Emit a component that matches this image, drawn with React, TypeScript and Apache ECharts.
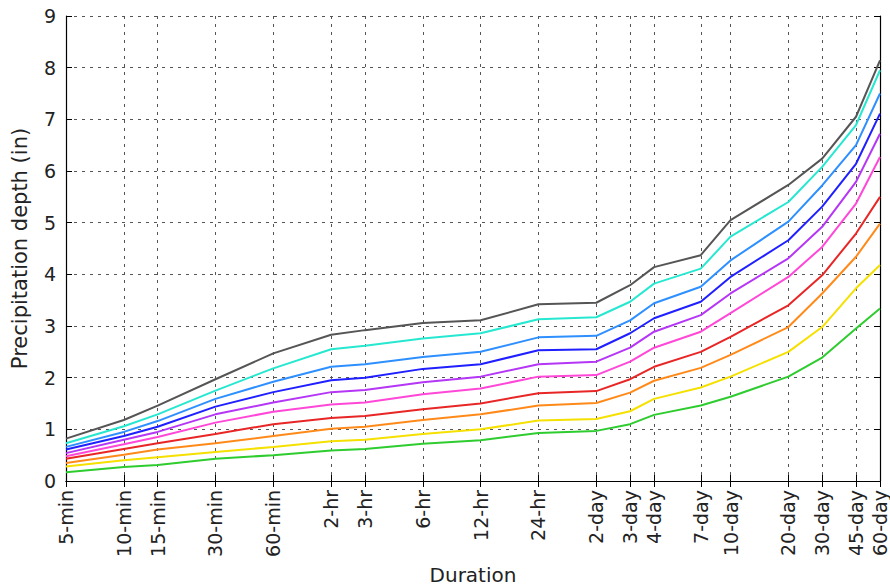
import React, { useEffect, useRef } from "react";
import * as echarts from "echarts";

// Durations in minutes, with their tick labels
const durationMinutes = [
  5, 10, 15, 30, 60, 120, 180, 360, 720, 1440, 2880, 4320, 5760, 10080, 14400,
  28800, 43200, 64800, 86400,
];
const durationLabels = [
  "5-min", "10-min", "15-min", "30-min", "60-min", "2-hr", "3-hr", "6-hr",
  "12-hr", "24-hr", "2-day", "3-day", "4-day", "7-day", "10-day", "20-day",
  "30-day", "45-day", "60-day",
];

// Precipitation depth (in) per duration, one array per curve
const depthGreen = [0.17, 0.27, 0.31, 0.43, 0.5, 0.59, 0.62, 0.72, 0.79, 0.93, 0.97, 1.1, 1.28, 1.46, 1.63, 2.02, 2.39, 2.95, 3.34];
const depthYellow = [0.28, 0.4, 0.46, 0.56, 0.66, 0.77, 0.8, 0.91, 1.0, 1.17, 1.2, 1.35, 1.59, 1.81, 2.02, 2.5, 2.98, 3.73, 4.18];
const depthOrange = [0.35, 0.51, 0.61, 0.73, 0.87, 1.01, 1.05, 1.18, 1.29, 1.46, 1.51, 1.71, 1.94, 2.19, 2.44, 2.98, 3.63, 4.34, 4.98];
const depthRed = [0.43, 0.62, 0.73, 0.91, 1.1, 1.22, 1.26, 1.39, 1.5, 1.7, 1.74, 1.97, 2.21, 2.5, 2.79, 3.4, 3.98, 4.79, 5.5];
const depthPink = [0.48, 0.71, 0.85, 1.13, 1.34, 1.48, 1.52, 1.68, 1.79, 2.02, 2.05, 2.31, 2.58, 2.89, 3.25, 3.95, 4.53, 5.37, 6.27];
const depthPurple = [0.54, 0.8, 0.95, 1.29, 1.52, 1.72, 1.76, 1.91, 2.02, 2.26, 2.31, 2.58, 2.89, 3.21, 3.63, 4.31, 4.92, 5.79, 6.72];
const depthBlue = [0.61, 0.87, 1.05, 1.44, 1.72, 1.95, 2.0, 2.17, 2.26, 2.53, 2.55, 2.86, 3.15, 3.47, 3.95, 4.66, 5.31, 6.14, 7.11];
const depthSky = [0.66, 0.95, 1.16, 1.59, 1.92, 2.21, 2.26, 2.4, 2.5, 2.78, 2.81, 3.11, 3.44, 3.76, 4.27, 5.02, 5.72, 6.5, 7.5];
const depthCyan = [0.73, 1.06, 1.29, 1.75, 2.18, 2.55, 2.62, 2.76, 2.86, 3.13, 3.17, 3.47, 3.82, 4.11, 4.73, 5.4, 6.08, 6.89, 7.95];
const depthGray = [0.82, 1.18, 1.46, 1.97, 2.47, 2.83, 2.92, 3.06, 3.11, 3.42, 3.45, 3.79, 4.14, 4.37, 5.05, 5.73, 6.24, 7.05, 8.14];

const yTicks = [0, 1, 2, 3, 4, 5, 6, 7, 8, 9];

const curves = [
  { name: "1-yr", color: "#2ecc2e", data: depthGreen },
  { name: "2-yr", color: "#f5e000", data: depthYellow },
  { name: "5-yr", color: "#ff8a1a", data: depthOrange },
  { name: "10-yr", color: "#e82626", data: depthRed },
  { name: "25-yr", color: "#ff48d8", data: depthPink },
  { name: "50-yr", color: "#b536f5", data: depthPurple },
  { name: "100-yr", color: "#1f1fff", data: depthBlue },
  { name: "200-yr", color: "#2e8fff", data: depthSky },
  { name: "500-yr", color: "#26e8d0", data: depthCyan },
  { name: "1000-yr", color: "#555555", data: depthGray },
];

const FONT = "DejaVu Sans";

function labelFor(v: number): string {
  let best = 0;
  for (let i = 1; i < durationMinutes.length; i++) {
    if (Math.abs(Math.log(durationMinutes[i] / v)) < Math.abs(Math.log(durationMinutes[best] / v))) best = i;
  }
  return durationLabels[best];
}

export default function App() {
  const ref = useRef<HTMLDivElement>(null);

  useEffect(() => {
    if (!ref.current) return;
    const chart = echarts.init(ref.current, null, { renderer: "svg" });

    const gridLine = { show: true, lineStyle: { color: "#555", width: 1, type: [3, 5] as any } };
    const frameLine = { show: true, lineStyle: { color: "#000", width: 1.2 } };

    chart.setOption({
      animation: false,
      backgroundColor: "#fff",
      grid: { left: 66, right: 10, top: 16, bottom: 105, containLabel: false, outerBoundsMode: "none" },
      xAxis: [
        {
          type: "log",
          logBase: 10,
          min: durationMinutes[0],
          max: durationMinutes[durationMinutes.length - 1],
          position: "bottom",
          name: "Duration",
          nameLocation: "middle",
          nameGap: 78,
          nameTextStyle: { fontFamily: FONT, fontSize: 20, color: "#222" },
          axisLine: frameLine,
          axisTick: { show: true, inside: true, length: 6, customValues: durationMinutes, lineStyle: { color: "#000" } },
          axisLabel: {
            customValues: durationMinutes,
            rotate: 90,
            margin: 9,
            fontFamily: FONT,
            fontSize: 19,
            color: "#222",
            formatter: (v: number) => labelFor(v),
          },
          splitLine: gridLine,
        },
        {
          type: "log",
          logBase: 10,
          min: durationMinutes[0],
          max: durationMinutes[durationMinutes.length - 1],
          position: "top",
          axisLine: frameLine,
          axisTick: { show: true, inside: true, length: 6, customValues: durationMinutes, lineStyle: { color: "#000" } },
          axisLabel: { show: false },
          splitLine: { show: false },
        },
      ],
      yAxis: [
        {
          type: "value",
          min: yTicks[0],
          max: yTicks[yTicks.length - 1],
          interval: 1,
          position: "left",
          name: "Precipitation depth (in)",
          nameLocation: "middle",
          nameGap: 36,
          nameTextStyle: { fontFamily: FONT, fontSize: 21, color: "#222" },
          axisLine: frameLine,
          axisTick: { show: true, inside: true, length: 6, lineStyle: { color: "#000" } },
          axisLabel: { fontFamily: FONT, fontSize: 19, color: "#222", margin: 10 },
          splitLine: gridLine,
        },
        {
          type: "value",
          min: yTicks[0],
          max: yTicks[yTicks.length - 1],
          interval: 1,
          position: "right",
          axisLine: frameLine,
          axisTick: { show: true, inside: true, length: 6, lineStyle: { color: "#000" } },
          axisLabel: { show: false },
          splitLine: { show: false },
        },
      ],
      series: curves.map((c) => ({
        type: "line",
        name: c.name,
        xAxisIndex: 0,
        yAxisIndex: 0,
        showSymbol: false,
        symbol: "none",
        lineStyle: { color: c.color, width: 2 },
        itemStyle: { color: c.color },
        data: durationMinutes.map((m, i) => [m, c.data[i]]),
      })),
    });

    return () => chart.dispose();
  }, []);

  return (
    <div
      ref={ref}
      style={{ position: "absolute", left: 0, top: 0, width: 890, height: 586, background: "#fff" }}
    />
  );
}
